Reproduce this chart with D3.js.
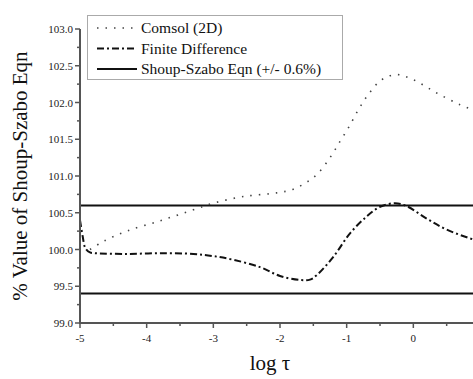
<!DOCTYPE html>
<html><head><meta charset="utf-8">
<script src="https://cdn.jsdelivr.net/npm/d3@7"></script>
</head><body style="margin:0">
<script>
const comsolX = [-4.85,-4.65,-4.3,-3.8,-3.3,-3.0,-2.55,-2.05,-1.8,-1.575,-1.425,-1.25,-1.1,-0.965,-0.825,-0.675,-0.475,-0.25,0.0,0.35,0.7,0.95];
const comsolY = [100.0,100.11,100.25,100.39,100.54,100.63,100.72,100.77,100.82,100.93,101.04,101.25,101.47,101.67,101.90,102.11,102.31,102.38,102.31,102.13,101.97,101.88];
const fdX = [-5.0,-4.96,-4.92,-4.85,-4.78,-4.3,-3.8,-3.3,-3.0,-2.7,-2.3,-2.0,-1.7,-1.55,-1.45,-1.2,-0.95,-0.7,-0.5,-0.275,-0.1,0.2,0.5,0.95];
const fdY = [100.4,100.18,100.02,99.96,99.95,99.94,99.95,99.94,99.91,99.86,99.76,99.64,99.585,99.59,99.65,99.90,100.22,100.45,100.58,100.63,100.59,100.42,100.27,100.12];
const bandValues = [100.6, 99.4];
const xTicks = [-5,-4,-3,-2,-1,0];
const yTicks = [99.0,99.5,100.0,100.5,101.0,101.5,102.0,102.5,103.0];
const legendLabels = ["Comsol (2D)","Finite Difference","Shoup-Szabo Eqn (+/- 0.6%)"];

const W=473,H=379;
const svg=d3.select("body").append("svg").attr("width",W).attr("height",H).style("display","block");
const x=d3.scaleLinear().domain([-5,1]).range([80,480]);
const y=d3.scaleLinear().domain([99,103]).range([323,29]);
const serif = sel => sel.style("font-family", `"Liberation Serif"`);

const line=d3.line().x(d=>x(d[0])).y(d=>y(d[1])).curve(d3.curveCatmullRom);

bandValues.forEach(v=>{
  svg.append("line").attr("x1",x(-5)).attr("x2",W).attr("y1",y(v)).attr("y2",y(v))
    .attr("stroke","#111").attr("stroke-width",2);
});

svg.append("path").datum(comsolX.map((d,i)=>[d,comsolY[i]])).attr("d",line)
  .attr("fill","none").attr("stroke","#444").attr("stroke-width",1.6)
  .attr("stroke-dasharray","1.5,7");

svg.append("path").datum(fdX.map((d,i)=>[d,fdY[i]])).attr("d",line)
  .attr("fill","none").attr("stroke","#111").attr("stroke-width",2)
  .attr("stroke-dasharray","7,3,2,3");

// x axis
const ax=svg.append("g").attr("transform",`translate(0,${y(99)})`);
ax.append("line").attr("x1",x(-5)).attr("x2",W).attr("stroke","#555").attr("stroke-width",2);
ax.selectAll("line.maj").data(xTicks).join("line").attr("class","maj")
  .attr("x1",d=>x(d)).attr("x2",d=>x(d)).attr("y1",0).attr("y2",5).attr("stroke","#555").attr("stroke-width",1.5);
ax.selectAll("line.min").data(d3.range(-4.5,1,1)).join("line").attr("class","min")
  .attr("x1",d=>x(d)).attr("x2",d=>x(d)).attr("y1",0).attr("y2",3).attr("stroke","#555").attr("stroke-width",1.5);
ax.selectAll("text").data(xTicks).join("text").call(serif)
  .attr("x",d=>x(d)).attr("y",19).attr("text-anchor","middle").attr("font-size",11).attr("fill","#222")
  .text(d=>String(d));

// y axis
const ay=svg.append("g").attr("transform",`translate(${x(-5)},0)`);
ay.append("line").attr("y1",y(99)+1).attr("y2",y(103)).attr("stroke","#555").attr("stroke-width",2);
ay.selectAll("line.maj").data(yTicks).join("line").attr("class","maj")
  .attr("x1",0).attr("x2",-5).attr("y1",d=>y(d)).attr("y2",d=>y(d)).attr("stroke","#555").attr("stroke-width",1.5);
ay.selectAll("line.min").data(d3.range(99.25,103,0.5)).join("line").attr("class","min")
  .attr("x1",0).attr("x2",-3).attr("y1",d=>y(d)).attr("y2",d=>y(d)).attr("stroke","#555").attr("stroke-width",1.5);
ay.selectAll("text").data(yTicks).join("text").call(serif)
  .attr("x",-7).attr("y",d=>y(d)+4).attr("text-anchor","end").attr("font-size",11).attr("fill","#222")
  .text(d=>d.toFixed(1));

svg.append("text").call(serif).attr("transform",`translate(27,${(y(99)+y(103))/2}) rotate(-90)`)
  .attr("text-anchor","middle").attr("font-size",21).attr("fill","#111")
  .text("% Value of Shoup-Szabo Eqn");
svg.append("text").call(serif).attr("x",270).attr("y",370).attr("text-anchor","middle")
  .attr("font-size",21).attr("fill","#111").text("log τ");

const lg=svg.append("g");
lg.append("rect").attr("x",87.5).attr("y",15.5).attr("width",255).attr("height",64)
  .attr("fill","#fff").attr("stroke","#aaa").attr("stroke-width",1);
const styles=[{dash:"1.5,7",w:1.6,c:"#444"},{dash:"7,3,2,3",w:2,c:"#111"},{dash:null,w:2,c:"#111"}];
legendLabels.forEach((t,i)=>{
  const yy=28+i*20.5;
  const l=lg.append("line").attr("x1",97).attr("x2",137).attr("y1",yy).attr("y2",yy)
    .attr("stroke",styles[i].c).attr("stroke-width",styles[i].w);
  if(styles[i].dash) l.attr("stroke-dasharray",styles[i].dash);
  lg.append("text").call(serif).attr("x",141).attr("y",yy+5).attr("font-size",15.5).attr("fill","#111").text(t);
});
</script>
</body></html>
